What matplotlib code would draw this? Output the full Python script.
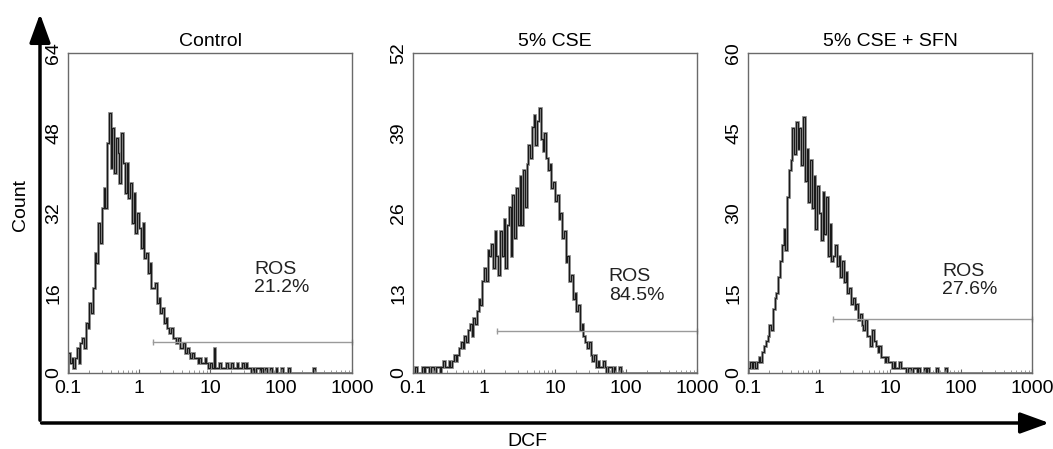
import numpy as np
import matplotlib
matplotlib.use("Agg")
import matplotlib.pyplot as plt
from matplotlib.patches import FancyArrowPatch

plt.rcParams['font.family'] = ['Liberation Sans', 'DejaVu Sans']

# histogram channels: 40 per decade from 0.1 to 1000
channels_per_decade = 40
edges = np.logspace(-1, 3, 4 * channels_per_decade + 1)

titles = ["Control", "5% CSE", "5% CSE + SFN"]
ros_pct = ["21.2%", "84.5%", "27.6%"]
ymax = [64, 52, 60]
yticks = [[0, 16, 32, 48, 64], [0, 13, 26, 39, 52], [0, 15, 30, 45, 60]]
xtick_vals = [0.1, 1, 10, 100, 1000]
xtick_labels = ["0.1", "1", "10", "100", "1000"]

# counts, channel by channel (trailing channels are empty)
control_counts = [
    4, 2, 3, 1, 3, 5, 2, 6, 7, 5, 10, 9, 14, 12, 17, 24,
    22, 30, 26, 33, 37, 33, 46, 52, 41, 49, 40, 47, 44, 38, 48, 42,
    36, 42, 35, 38, 30, 36, 28, 32, 29, 25, 30, 23, 24, 20, 22, 17,
    17, 18, 14, 15, 12, 13, 10, 11, 9, 8, 9, 7, 7, 6, 7, 5,
    5, 6, 4, 5, 4, 3, 4, 3, 3, 2, 3, 2, 2, 3, 2, 1,
    2, 1, 5, 1, 1, 2, 1, 1, 1, 2, 1, 1, 2, 1, 1, 2,
    1, 1, 2, 1, 2, 1, 1, 0, 1, 0, 1, 1, 0, 1, 0, 1,
    0, 0, 1, 0, 0, 1, 0, 0, 1, 0, 0, 0, 1, 0, 0, 0,
    0, 0, 0, 0, 0, 0, 0, 0, 0, 0, 1,
]
cse_counts = [
    0, 1, 0, 0, 0, 1, 0, 1, 1, 0, 1, 1, 0, 1, 1, 0,
    1, 2, 1, 1, 2, 1, 2, 3, 2, 3, 4, 5, 4, 6, 5, 7,
    8, 6, 9, 8, 10, 12, 11, 15, 17, 15, 20, 19, 21, 17, 23, 19,
    16, 23, 19, 25, 17, 24, 27, 19, 29, 22, 30, 24, 32, 24, 33, 27,
    34, 37, 35, 40, 42, 37, 41, 43, 38, 36, 39, 35, 33, 34, 30, 31,
    28, 29, 25, 26, 22, 23, 18, 19, 15, 16, 12, 13, 10, 11, 7, 8,
    6, 5, 4, 5, 3, 2, 3, 1, 2, 1, 1, 2, 1, 0, 1, 1,
    0, 1, 0, 0, 1,
]
sfn_counts = [
    1, 2, 1, 2, 1, 2, 3, 2, 4, 5, 6, 7, 9, 8, 12, 14,
    15, 18, 21, 24, 27, 23, 33, 38, 40, 46, 41, 47, 42, 46, 39, 48,
    36, 42, 32, 40, 31, 37, 27, 35, 30, 25, 34, 26, 33, 22, 28, 21,
    22, 24, 20, 22, 18, 21, 17, 19, 15, 16, 13, 14, 12, 13, 10, 11,
    9, 8, 10, 7, 7, 5, 8, 6, 5, 4, 5, 3, 3, 2, 3, 2,
    2, 1, 2, 1, 1, 2, 1, 1, 1, 0, 1, 1, 0, 1, 1, 0,
    1, 0, 0, 1, 0, 1, 0, 0, 0, 0, 1, 0, 0, 0, 0, 1,
]
all_counts = [control_counts, cse_counts, sfn_counts]

# ROS gate: start of marker and its height
gate_start = [1.55, 1.5, 1.58]
gate_level = [6.2, 6.8, 10.1]
# position of the ROS label (data coords, top-left)
label_x = [42, 57, 54]
label_y = [22.5, 17.0, 20.6]

W, H = 1053, 449
FS = 14
fig = plt.figure(figsize=(W / 100, H / 100), dpi=100)

lefts = [68, 413, 748]
for i in range(3):
    ax = fig.add_axes([lefts[i] / W, 1 - 373 / H, 284 / W, 320 / H])
    counts = np.zeros(len(edges) - 1)
    counts[:len(all_counts[i])] = all_counts[i]
    ax.stairs(counts, edges, color="#8a8a8a", lw=2.0)
    ax.stairs(counts, edges, color="#1a1a1a", lw=0.8)

    # gate marker
    ax.plot([gate_start[i], 1000], [gate_level[i], gate_level[i]],
            color="#9a9a9a", lw=1.0, marker="|", markersize=5,
            markeredgewidth=1.0, clip_on=False)

    ax.text(label_x[i], label_y[i], "ROS\n" + ros_pct[i], fontsize=FS,
            va="top", ha="left", color="#222222", linespacing=1.1)

    ax.set_xscale("log")
    ax.set_xlim(0.1, 1000)
    ax.set_ylim(0, ymax[i])
    ax.set_xticks(xtick_vals)
    ax.set_xticklabels(xtick_labels)
    ax.set_yticks(yticks[i])
    ax.set_yticklabels([str(v) for v in yticks[i]], rotation=90, va="center")
    ax.tick_params(axis="x", which="major", direction="in", length=3,
                   labelsize=FS, pad=5, color="#666666")
    ax.tick_params(axis="x", which="minor", direction="in", length=2,
                   color="#888888")
    ax.tick_params(axis="y", length=0, labelsize=FS, pad=4)
    for sp in ax.spines.values():
        sp.set_color("#6a6a6a")
        sp.set_linewidth(1.0)
    ax.set_title(titles[i], fontsize=FS, pad=5)

# big axis arrows
x0, y0 = 40 / W, 1 - 423 / H
arrow_style = "-|>,head_length=1.1,head_width=0.4"
fig.add_artist(FancyArrowPatch((x0, y0), (x0, 1 - 11 / H),
                               transform=fig.transFigure,
                               arrowstyle=arrow_style,
                               mutation_scale=16, lw=2.5, color="black"))
fig.add_artist(FancyArrowPatch((x0 - 1.2 / W, y0), (1052 / W, y0),
                               transform=fig.transFigure,
                               arrowstyle=arrow_style,
                               mutation_scale=16, lw=2.5, color="black"))

fig.text(20 / W, 1 - 205 / H, "Count", rotation=90, fontsize=FS,
         ha="center", va="center")
fig.text(527 / W, 1 - 441 / H, "DCF", fontsize=FS, ha="center", va="center")

fig.savefig("out.png", dpi=100)
